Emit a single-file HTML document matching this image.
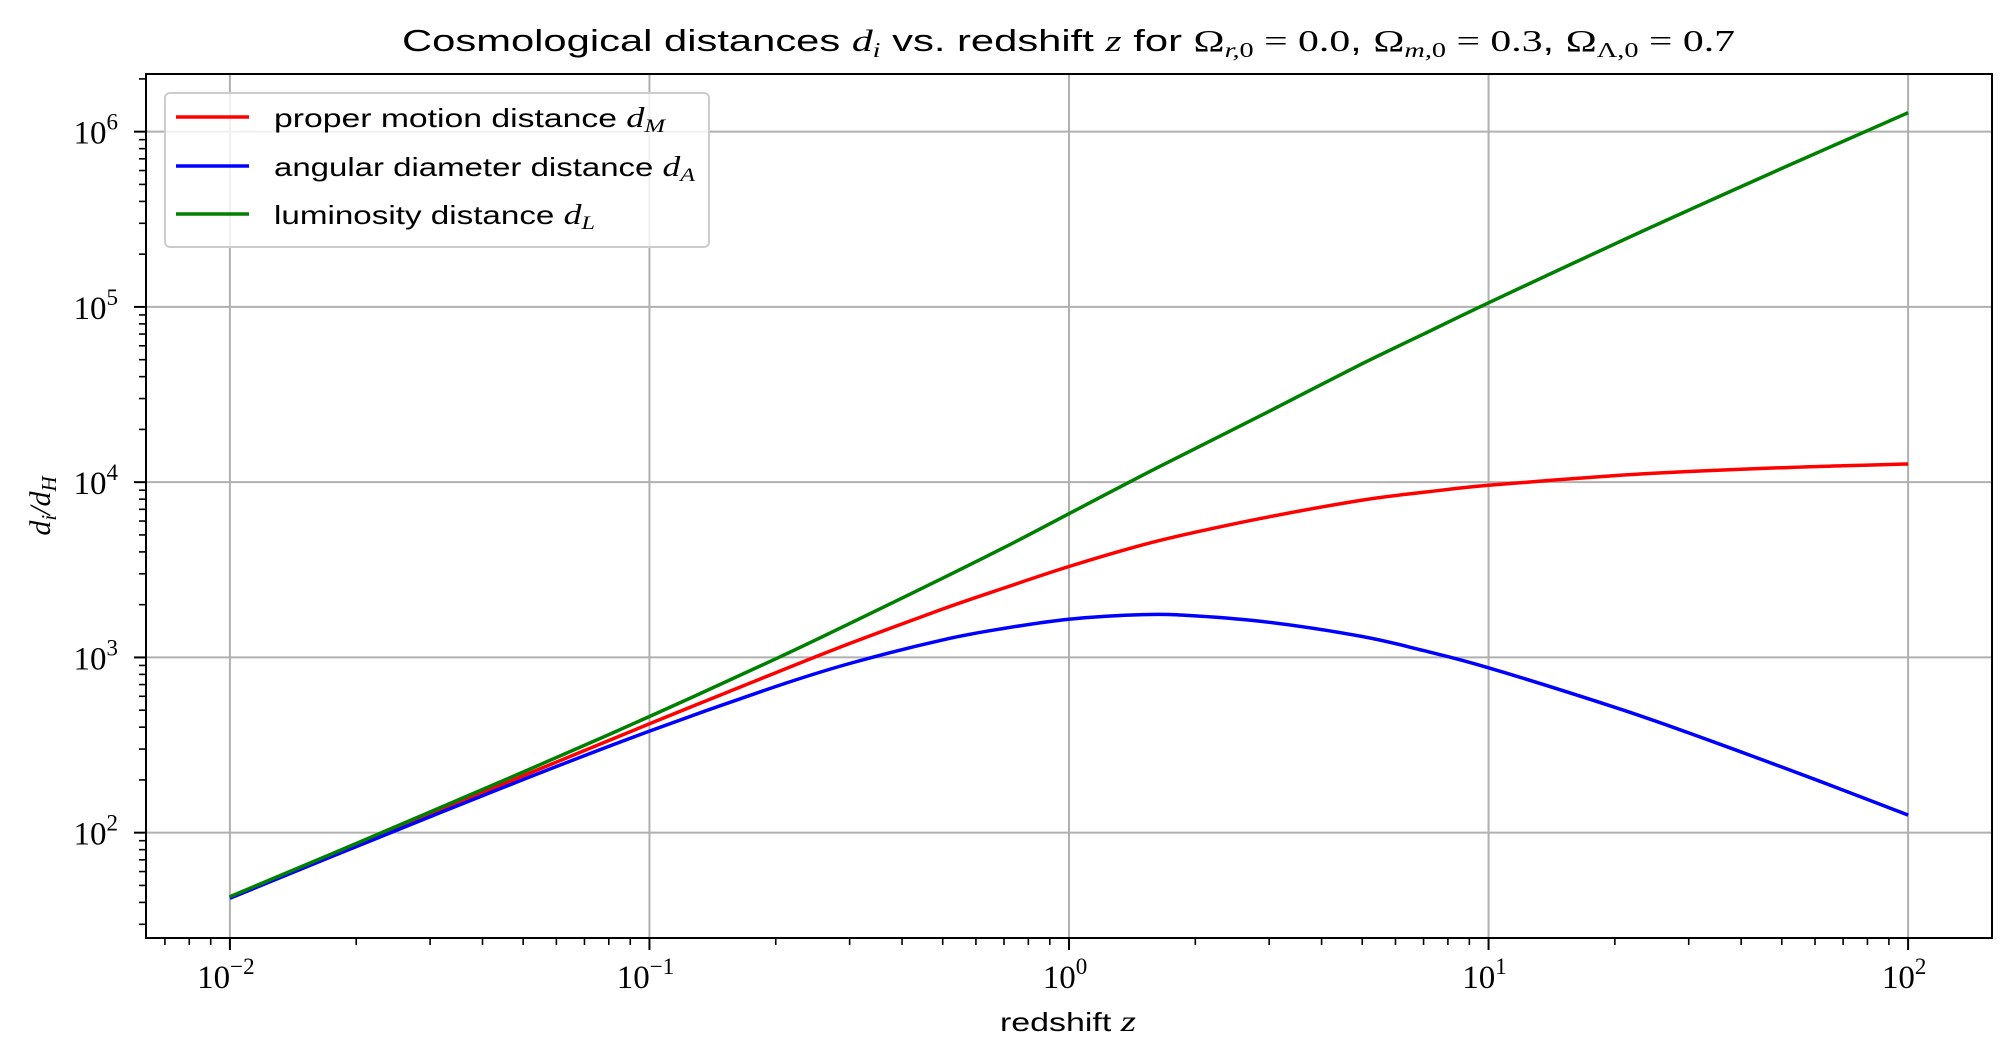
<!DOCTYPE html>
<html><head><meta charset="utf-8"><style>
html,body{margin:0;padding:0;background:#fff;}
svg{display:block;}
text{font-family:"Liberation Sans",sans-serif;fill:#000;}
.serif{font-family:"Liberation Serif",serif;}
</style></head><body>
<svg id="chart" width="2015" height="1063" viewBox="0 0 2015 1063" xmlns="http://www.w3.org/2000/svg">
<text x="402" y="51" font-size="31" textLength="1333" lengthAdjust="spacingAndGlyphs">Cosmological distances <tspan class="serif" font-style="italic">d</tspan><tspan class="serif" font-style="italic" font-size="21" dy="6">i</tspan><tspan dy="-6"> vs. redshift </tspan><tspan class="serif" font-style="italic">z</tspan> for <tspan class="serif">Ω</tspan><tspan class="serif" font-style="italic" font-size="21" dy="6">r,</tspan><tspan class="serif" font-size="21">0</tspan><tspan class="serif" dy="-6"> = 0.0</tspan>, <tspan class="serif">Ω</tspan><tspan class="serif" font-style="italic" font-size="21" dy="6">m,</tspan><tspan class="serif" font-size="21">0</tspan><tspan class="serif" dy="-6"> = 0.3</tspan>, <tspan class="serif">Ω</tspan><tspan class="serif" font-size="21" dy="6">Λ,0</tspan><tspan class="serif" dy="-6"> = 0.7</tspan></text>
<g id="grid"></g>
<g id="series"></g>
<rect x="146" y="74" width="1846" height="864" fill="none" stroke="#000" stroke-width="2"/>
<g id="ticks"></g>
<text x="1000" y="1031" font-size="26" textLength="136" lengthAdjust="spacingAndGlyphs">redshift <tspan class="serif" font-style="italic" font-size="30">z</tspan></text>
<text transform="translate(50,506) rotate(-90)" font-size="30" text-anchor="middle" class="serif" font-style="italic">d<tspan font-size="21" dy="6">i</tspan><tspan dy="-6">/d</tspan><tspan font-size="21" dy="6">H</tspan></text>
<g>
<rect x="165" y="93" width="544" height="154" rx="5" fill="#fff" fill-opacity="0.8" stroke="#ccc" stroke-width="2"/>
<line x1="176" y1="117" x2="249" y2="117" stroke="#ff0000" stroke-width="3.5"/>
<text x="274" y="127" font-size="26" textLength="391" lengthAdjust="spacingAndGlyphs">proper motion distance <tspan class="serif" font-style="italic" font-size="28">d</tspan><tspan class="serif" font-style="italic" font-size="19" dy="5">M</tspan></text>
<line x1="176" y1="166" x2="249" y2="166" stroke="#0000ff" stroke-width="3.5"/>
<text x="274" y="176" font-size="26" textLength="421" lengthAdjust="spacingAndGlyphs">angular diameter distance <tspan class="serif" font-style="italic" font-size="28">d</tspan><tspan class="serif" font-style="italic" font-size="19" dy="5">A</tspan></text>
<line x1="176" y1="214" x2="249" y2="214" stroke="#008000" stroke-width="3.5"/>
<text x="274" y="224" font-size="26" textLength="321" lengthAdjust="spacingAndGlyphs">luminosity distance <tspan class="serif" font-style="italic" font-size="28">d</tspan><tspan class="serif" font-style="italic" font-size="19" dy="5">L</tspan></text>
</g>
</svg>
<script>
const redshifts = [0.01,0.02,0.05,0.1,0.2,0.3,0.5,0.7,1,1.5,2,3,5,7,10,20,30,50,70,100];
const properMotion = [42.7,85,211,418,818,1200,1888,2490,3303,4390,5179,6345,7900,8750,9600,10900,11500,12100,12400,12700];
const angularDiameter = [42.3,83.3,201,380,682,923,1259,1465,1652,1756,1726,1586,1317,1094,873,519,371,237,175,126];
const luminosity = [43.1,86.7,222,460,982,1560,2832,4233,6606,10975,15537,25380,47400,70000,105600,228900,356500,617100,880400,1282700];
const xTickExps = [-2,-1,0,1,2];
const yTickExps = [2,3,4,5,6];

const NS="http://www.w3.org/2000/svg";
const L=146,R=1992,T=74,B=938;
const xMin=-2.2,xMax=2.2,yMin=1.399,yMax=6.329;
function xs(v){return L+(Math.log10(v)-xMin)/(xMax-xMin)*(R-L);}
function ys(v){return B-(Math.log10(v)-yMin)/(yMax-yMin)*(B-T);}
function mk(tag,attrs,parent){const e=document.createElementNS(NS,tag);for(const k in attrs)e.setAttribute(k,attrs[k]);parent.appendChild(e);return e;}
const grid=document.getElementById('grid'),ticks=document.getElementById('ticks'),series=document.getElementById('series');

xTickExps.forEach(e=>{
  const x=xs(Math.pow(10,e));
  const g=mk('line',{x1:x,y1:T,x2:x,y2:B,stroke:'#b0b0b0','stroke-width':2},grid);
  
  
  const t=mk('line',{x1:x,y1:B,x2:x,y2:B+12,stroke:'#000','stroke-width':2},ticks);
  
  
  const lb=mk('text',{x:x-4,y:988,'font-size':33,'text-anchor':'middle','class':'serif'},ticks);
  
  
  lb.textContent='10';
  const sp=mk('tspan',{dy:-14,'font-size':23},lb);sp.textContent=(e<0?'\u2212':'')+Math.abs(e);
});
for(let e=-3;e<=2;e++)for(let m=2;m<=9;m++){
  const v=m*Math.pow(10,e);const lv=Math.log10(v);if(lv<xMin||lv>xMax)continue;
  const x=xs(v);
  const t=mk('line',{x1:x,y1:B,x2:x,y2:B+7,stroke:'#000','stroke-width':1.6},ticks);
  
  
}
yTickExps.forEach(e=>{
  const y=ys(Math.pow(10,e));
  const g=mk('line',{x1:L,y1:y,x2:R,y2:y,stroke:'#b0b0b0','stroke-width':2},grid);
  
  
  const t=mk('line',{x1:L-12,y1:y,x2:L,y2:y,stroke:'#000','stroke-width':2},ticks);
  
  
  const lb=mk('text',{x:118,y:y+12,'font-size':33,'text-anchor':'end','class':'serif'},ticks);
  
  
  lb.textContent='10';
  const sp=mk('tspan',{dy:-14,'font-size':23},lb);sp.textContent=String(e);
});
for(let e=1;e<=6;e++)for(let m=2;m<=9;m++){
  const v=m*Math.pow(10,e);const lv=Math.log10(v);if(lv<yMin||lv>yMax)continue;
  const y=ys(v);
  const t=mk('line',{x1:L-7,y1:y,x2:L,y2:y,stroke:'#000','stroke-width':1.6},ticks);
  
  
}
function pathFor(vals){
  const p=redshifts.map((z,i)=>[xs(z),ys(vals[i])]);
  let d='M'+p[0][0].toFixed(1)+','+p[0][1].toFixed(1);
  for(let i=0;i<p.length-1;i++){
    const p0=p[i-1]||p[i],p1=p[i],p2=p[i+1],p3=p[i+2]||p2;
    const c1=[p1[0]+(p2[0]-p0[0])/6,p1[1]+(p2[1]-p0[1])/6];
    const c2=[p2[0]-(p3[0]-p1[0])/6,p2[1]-(p3[1]-p1[1])/6];
    d+=' C'+c1[0].toFixed(1)+','+c1[1].toFixed(1)+' '+c2[0].toFixed(1)+','+c2[1].toFixed(1)+' '+p2[0].toFixed(1)+','+p2[1].toFixed(1);
  }
  return d;
}
const lm=mk('path',{d:pathFor(properMotion),fill:'none',stroke:'#ff0000','stroke-width':3.5},series);


const la=mk('path',{d:pathFor(angularDiameter),fill:'none',stroke:'#0000ff','stroke-width':3.5},series);


const ll=mk('path',{d:pathFor(luminosity),fill:'none',stroke:'#008000','stroke-width':3.5},series);


</script>
</body></html>
